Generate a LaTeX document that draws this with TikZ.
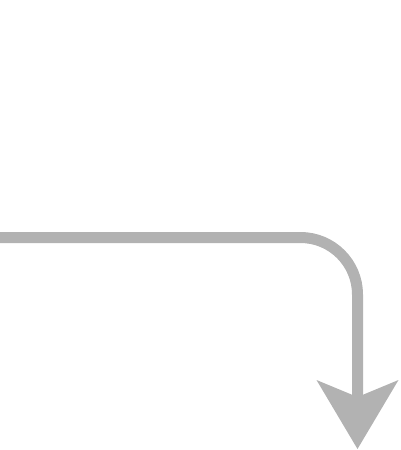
\documentclass[tikz,border=0pt]{standalone}
\usepackage{tikz}
\usetikzlibrary{arrows.meta}

\begin{document}
\begin{tikzpicture}[x=1pt, y=-1pt,
  flow/.style={draw=gray!60, line width=11pt, rounded corners=57pt,
    -{Stealth[length=69pt, width=82pt, inset=17pt, line width=0pt, fill=gray!60]}}]
\useasboundingbox (0,0) rectangle (400,450);
\coordinate (start) at (-6,237.5);
\coordinate (bend) at (357.5,237.5);
\coordinate (stop) at (357.5,449);
\draw[flow] (start) -- (bend) -- (stop);
\end{tikzpicture}
\end{document}
